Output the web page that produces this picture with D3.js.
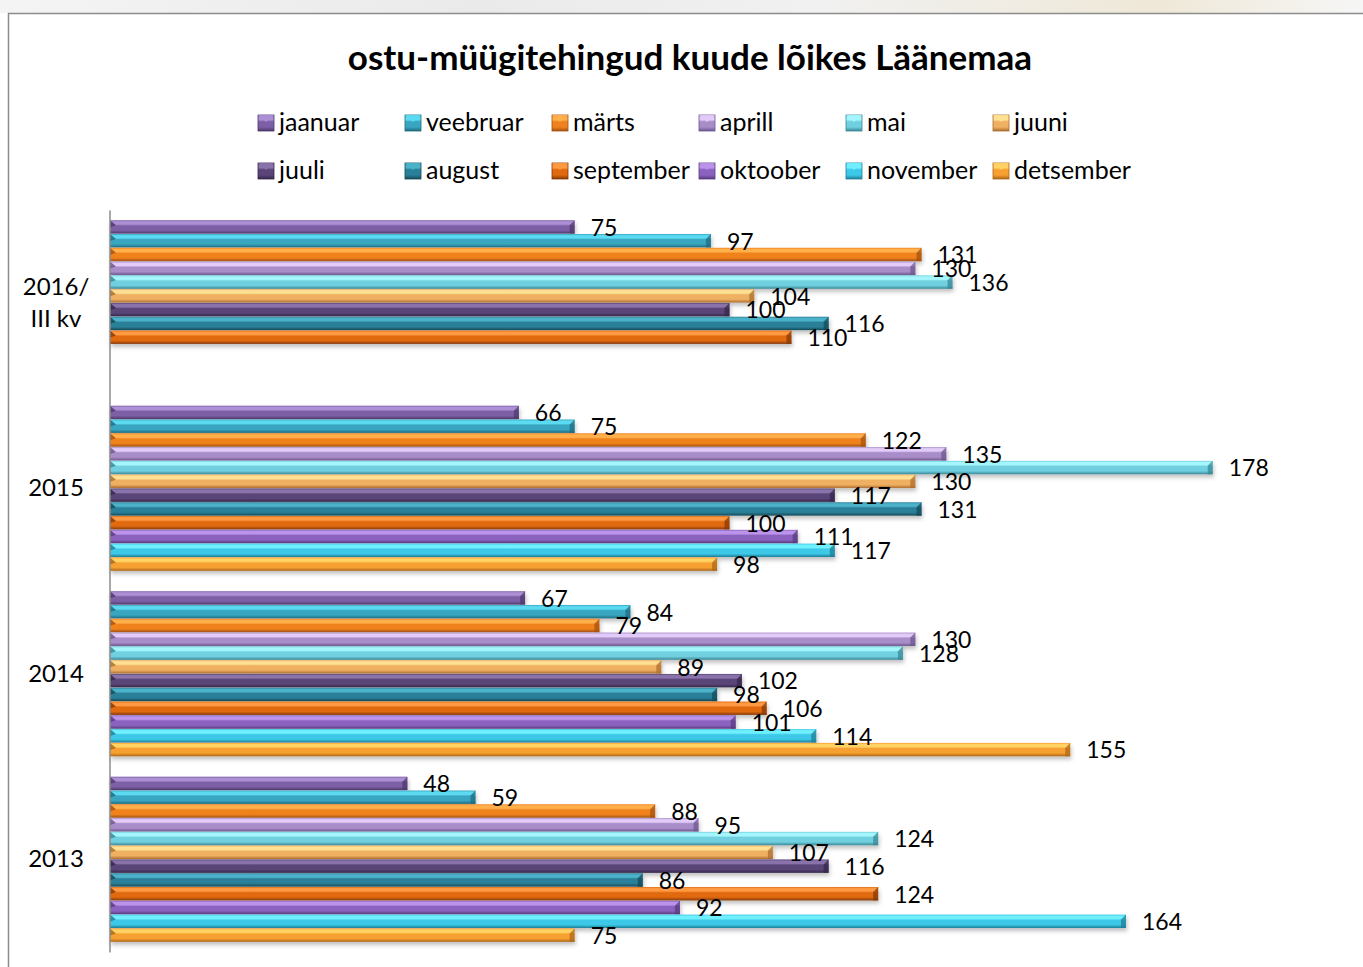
<html>
<head>
	<meta charset="utf-8">
	<script src="https://d3js.org/d3.v7.min.js"></script>
	<style>
		body { margin: 0; background: #fff; }
		text { font-family: Lato, "Noto Sans", sans-serif; fill: #000; }
	</style>
</head>
<body>
	<script>
		// data
		var categories = ["2016/III kv", "2015", "2014", "2013"];
		var months = ["jaanuar", "veebruar", "märts", "aprill", "mai", "juuni",
			"juuli", "august", "september", "oktoober", "november", "detsember"];
		var values2016 = [75, 97, 131, 130, 136, 104, 100, 116, 110];
		var values2015 = [66, 75, 122, 135, 178, 130, 117, 131, 100, 111, 117, 98];
		var values2014 = [67, 84, 79, 130, 128, 89, 102, 98, 106, 101, 114, 155];
		var values2013 = [48, 59, 88, 95, 124, 107, 116, 86, 124, 92, 164, 75];
		var seriesByCat = [values2016, values2015, values2014, values2013];

		// light / mid / dark shade for each month
		var colTop = ["#ad8fd6", "#5cdaf2", "#ffb04c", "#e2cbf8", "#a4f6fc", "#ffe194",
			"#8a72aa", "#4cb2ca", "#ff9a42", "#bb93ea", "#70f0ff", "#ffd264"];
		var colMid = ["#7d5fa6", "#38a6c0", "#f0821e", "#a88dc9", "#70d0e0", "#efb062",
			"#5a4478", "#2a8098", "#e06a10", "#8c62c0", "#3cc8e8", "#f7a030"];
		var colDark = ["#4d396b", "#1e6b7e", "#a5510f", "#6d578f", "#3a8896", "#ad6e30",
			"#35274a", "#154a58", "#873a08", "#583b7e", "#1f7f96", "#ad6818"];

		var W = 1363, H = 967;
		var svg = d3.select("body").append("svg").attr("width", W).attr("height", H);
		var defs = svg.append("defs");

		// faded strip above the chart frame
		var bg = defs.append("linearGradient").attr("id", "bgstrip");
		bg.append("stop").attr("offset", "0%").attr("stop-color", "#f4f4f4");
		bg.append("stop").attr("offset", "35%").attr("stop-color", "#eaeaea");
		bg.append("stop").attr("offset", "60%").attr("stop-color", "#f1f1f1");
		bg.append("stop").attr("offset", "85%").attr("stop-color", "#efe8d8");
		bg.append("stop").attr("offset", "100%").attr("stop-color", "#f6f6f6");
		svg.append("rect").attr("x", 0).attr("y", 0).attr("width", W).attr("height", 13).attr("fill", "url(#bgstrip)");

		// chart frame
		svg.append("rect").attr("x", 8.5).attr("y", 13.5).attr("width", W + 20).attr("height", H + 20)
			.attr("fill", "#fff").attr("stroke", "#8c8c8c").attr("stroke-width", 1.5);

		months.forEach(function(m, i) {
			var g = defs.append("linearGradient").attr("id", "grad" + i)
				.attr("x1", 0).attr("y1", 0).attr("x2", 0).attr("y2", 1);
			g.append("stop").attr("offset", "0%").attr("stop-color", colMid[i]);
			g.append("stop").attr("offset", "12%").attr("stop-color", colTop[i]);
			g.append("stop").attr("offset", "30%").attr("stop-color", colTop[i]);
			g.append("stop").attr("offset", "42%").attr("stop-color", colMid[i]);
			g.append("stop").attr("offset", "75%").attr("stop-color", colMid[i]);
			g.append("stop").attr("offset", "100%").attr("stop-color", colDark[i]);
		});

		var sh = defs.append("filter").attr("id", "shadow").attr("x", "-5%").attr("y", "-50%")
			.attr("width", "110%").attr("height", "250%");
		sh.append("feDropShadow").attr("dx", 1).attr("dy", 3).attr("stdDeviation", 2)
			.attr("flood-color", "#000").attr("flood-opacity", 0.25);

		// title
		svg.append("text").attr("x", 690).attr("y", 70).attr("text-anchor", "middle")
			.style("font-size", "35px").style("font-weight", "bold")
			.text("ostu-müügitehingud kuude lõikes Läänemaa");

		// legend
		var legend = svg.append("g");
		months.forEach(function(m, i) {
			var lx = 258 + (i % 6) * 147, ly = 115 + Math.floor(i / 6) * 48;
			legend.append("rect").attr("x", lx).attr("y", ly).attr("width", 16).attr("height", 16)
				.attr("fill", "url(#grad" + i + ")").attr("stroke", colDark[i]).attr("stroke-width", 0.8);
			legend.append("polygon")
				.attr("points", [[lx, ly], [lx + 16, ly], [lx + 8, ly + 7]].join(" "))
				.attr("fill", colTop[i]).attr("opacity", 0.9);
			legend.append("text").attr("x", lx + 21).attr("y", ly + 16)
				.style("font-size", "25px").text(m);
		});

		// scales
		var x = d3.scaleLinear().domain([0, 200]).range([110, 1349]);
		var y = d3.scaleBand().domain(categories).range([210, 952]);
		var yIn = d3.scaleBand().domain(months).range([0, y.bandwidth()])
			.paddingInner(0.03).paddingOuter(0.74);

		// bars
		var rows = [];
		categories.forEach(function(c, ci) {
			seriesByCat[ci].forEach(function(v, mi) {
				rows.push({cat: c, m: mi, v: v});
			});
		});

		var bars = svg.append("g").selectAll("g").data(rows).enter().append("g");
		bars.append("rect")
			.attr("x", x(0))
			.attr("y", function(d) { return y(d.cat) + yIn(months[d.m]); })
			.attr("width", function(d) { return x(d.v) - x(0); })
			.attr("height", yIn.bandwidth())
			.attr("fill", function(d) { return "url(#grad" + d.m + ")"; })
			.attr("filter", "url(#shadow)");
		// bevel at both ends
		bars.append("polygon")
			.attr("points", function(d) {
				var y0 = y(d.cat) + yIn(months[d.m]), h = yIn.bandwidth(), x1 = x(d.v);
				return [[x1 - 5, y0 + 5], [x1, y0], [x1, y0 + h], [x1 - 5, y0 + h]].join(" ");
			})
			.attr("fill", function(d) { return colDark[d.m]; }).attr("opacity", 0.75);
		bars.append("polygon")
			.attr("points", function(d) {
				var y0 = y(d.cat) + yIn(months[d.m]), x0 = x(0);
				return [[x0, y0], [x0 + 6, y0 + 5], [x0, y0 + 7]].join(" ");
			})
			.attr("fill", function(d) { return colDark[d.m]; }).attr("opacity", 0.85);

		// value labels
		svg.append("g").selectAll("text").data(rows).enter().append("text")
			.attr("x", function(d) { return x(d.v) + 16; })
			.attr("y", function(d) { return y(d.cat) + yIn(months[d.m]) + yIn.bandwidth() / 2 + 3; })
			.attr("dominant-baseline", "middle")
			.style("font-size", "23px")
			.text(function(d) { return d.v; });

		// category axis
		var axis = svg.append("g").attr("transform", "translate(109.5,0)")
			.call(d3.axisLeft(y).tickSize(0).tickFormat(""));
		axis.select(".domain").attr("stroke", "#8c8c8c").attr("stroke-width", 1.5);

		var catLabels = svg.append("g").selectAll("text").data(categories).enter().append("text")
			.attr("text-anchor", "middle")
			.style("font-size", "24px");
		catLabels.each(function(c) {
			var parts = c.indexOf("/") > 0 ? [c.slice(0, c.indexOf("/") + 1), c.slice(c.indexOf("/") + 1)] : [c];
			var cy = y(c) + y.bandwidth() / 2 + 8 - (parts.length - 1) * 16;
			var t = d3.select(this);
			parts.forEach(function(p, k) {
				t.append("tspan").attr("x", 56).attr("y", cy + k * 32).text(p);
			});
		});
	</script>
</body>
</html>
